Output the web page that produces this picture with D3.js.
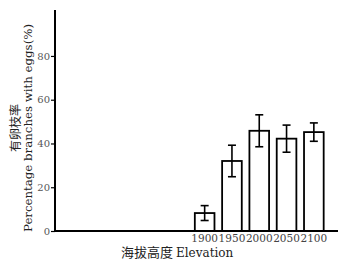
<!DOCTYPE html>
<html lang="zh">
  <head>
    <meta charset="UTF-8" />
    <title>有卵枝率</title>
    <script src="https://d3js.org/d3.v7.min.js"></script>
    <style>
      body {
        margin: 0;
        background: #fff;
      }
      svg {
        display: block;
        font-family: "DejaVu Serif", serif;
      }
      .cn {
        font-family: "Noto Sans CJK SC", sans-serif;
      }
    </style>
  </head>
  <body>
    <svg id="chart" width="349" height="267"></svg>
    <script>
      const elevations = ["1900", "1950", "2000", "2050", "2100"];
      const percentEggs = [8.2, 32.0, 45.8, 42.2, 45.2];
      const errors = [3.4, 7.2, 7.3, 6.2, 4.2];
      const yTicks = [0, 20, 40, 60, 80];

      const svg = d3.select("#chart");

      const left = 55;
      const bottom = 231;
      const right = 338;

      const y = d3.scaleLinear().domain([0, 101]).range([bottom, 10]);
      const x = d3
        .scaleBand()
        .domain(elevations)
        .range([191, 327.5])
        .paddingInner(0.28)
        .paddingOuter(0.14);

      const data = elevations.map((e, i) => ({
        elev: e,
        val: percentEggs[i],
        err: errors[i],
      }));

      // y axis
      const yAxis = svg
        .append("g")
        .attr("transform", `translate(${left},0)`)
        .call(d3.axisLeft(y).tickValues(yTicks).tickSize(4).tickPadding(1));
      yAxis.select(".domain").remove();
      yAxis.selectAll(".tick line").attr("stroke", "#000").attr("stroke-width", 1.2);
      yAxis
        .selectAll(".tick text")
        .attr("fill", "#555")
        .style("font-family", "DejaVu Serif, serif")
        .style("font-size", "10px");

      // bars
      svg
        .selectAll("rect.bar")
        .data(data)
        .enter()
        .append("rect")
        .attr("class", "bar")
        .attr("x", (d) => x(d.elev))
        .attr("y", (d) => y(d.val))
        .attr("width", x.bandwidth())
        .attr("height", (d) => bottom - y(d.val))
        .attr("fill", "#fff")
        .attr("stroke", "#000")
        .attr("stroke-width", 1.8);

      // error bars
      const eb = svg.selectAll("g.err").data(data).enter().append("g").attr("class", "err");
      const cx = (d) => x(d.elev) + x.bandwidth() / 2;
      eb.append("line")
        .attr("x1", cx)
        .attr("x2", cx)
        .attr("y1", (d) => y(d.val + d.err))
        .attr("y2", (d) => y(d.val - d.err));
      eb.append("line")
        .attr("x1", (d) => cx(d) - 4)
        .attr("x2", (d) => cx(d) + 4)
        .attr("y1", (d) => y(d.val + d.err))
        .attr("y2", (d) => y(d.val + d.err));
      eb.append("line")
        .attr("x1", (d) => cx(d) - 4)
        .attr("x2", (d) => cx(d) + 4)
        .attr("y1", (d) => y(d.val - d.err))
        .attr("y2", (d) => y(d.val - d.err));
      eb.selectAll("line").attr("stroke", "#000").attr("stroke-width", 1.6);

      // axis lines
      svg.append("line")
        .attr("x1", left).attr("x2", left)
        .attr("y1", y(101)).attr("y2", bottom + 1)
        .attr("stroke", "#000").attr("stroke-width", 2);
      svg.append("line")
        .attr("x1", left).attr("x2", right)
        .attr("y1", bottom).attr("y2", bottom)
        .attr("stroke", "#000").attr("stroke-width", 2);

      // x tick labels
      const xAxis = svg
        .append("g")
        .attr("transform", `translate(0,${bottom})`)
        .call(d3.axisBottom(x).tickSize(0).tickPadding(4));
      xAxis.select(".domain").remove();
      xAxis
        .selectAll(".tick text")
        .attr("fill", "#444")
        .style("font-family", "DejaVu Serif, serif")
        .style("font-size", "10.5px");

      // x title
      const xt = svg.append("text").attr("x", 121).attr("y", 257).attr("fill", "#222");
      xt.append("tspan").attr("class", "cn").style("font-size", "13px").text("海拔高度");
      xt.append("tspan").attr("dx", 3).style("font-size", "12px").text("Elevation");

      // y title
      svg.append("text")
        .attr("class", "cn")
        .attr("transform", "translate(20,128) rotate(-90)")
        .attr("text-anchor", "middle")
        .attr("fill", "#222")
        .style("font-size", "12px")
        .text("有卵枝率");
      svg.append("text")
        .attr("transform", "translate(32,128) rotate(-90)")
        .attr("text-anchor", "middle")
        .attr("fill", "#222")
        .attr("textLength", 208)
        .attr("lengthAdjust", "spacingAndGlyphs")
        .style("font-size", "10.5px")
        .text("Percentage branches with eggs(%)");
    </script>
  </body>
</html>
